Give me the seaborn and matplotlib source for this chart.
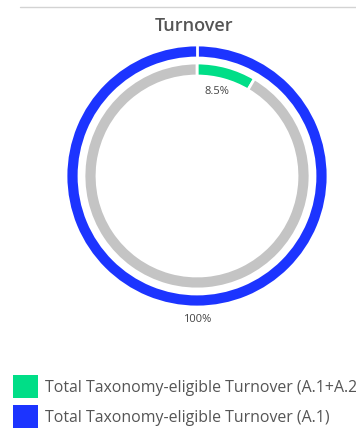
import matplotlib
matplotlib.use("Agg")
import matplotlib.pyplot as plt
from matplotlib.patches import Rectangle
from matplotlib.lines import Line2D
import seaborn as sns

# Data
title = "Turnover"
eligible_share = 8.5          # Taxonomy-eligible turnover (A.1+A.2), %
aligned_share = 100.0         # Taxonomy-eligible turnover (A.1), %
legend_labels = [
    "Total Taxonomy-eligible Turnover (A.1+A.2)",
    "Total Taxonomy-eligible Turnover (A.1)",
]

GREEN = "#00DE87"
BLUE = "#1C34FF"
GREY = "#C4C4C4"
TEXT = "#555555"

sns.set_theme(style="white")
plt.rcParams["font.family"] = ["Open Sans", "DejaVu Sans"]

W, H = 356, 431
fig = plt.figure(figsize=(W / 100, H / 100), dpi=100)


def fx(px):
    return px / W


def fy(py):
    return 1 - py / H


# thin rule across the top
fig.add_artist(Line2D([fx(20), 1.0], [fy(8), fy(8)], color="#D3D3D3", lw=1.0))
fig.text(fx(194), fy(26), title, ha="center", va="center",
         fontsize=13, color=TEXT, fontweight="semibold")

ax = fig.add_axes([fx(66), fy(308), 262 / W, 262 / H])
ax.set_aspect("equal")

r_out = 1.0
w_out = 13 / 131
r_in = 113 / 131
w_in = 13 / 131

# outer ring: A.1 share
outer_vals = [aligned_share] if aligned_share >= 100 else [aligned_share, 100 - aligned_share]
ax.pie(outer_vals, radius=r_out, startangle=90, counterclock=False,
       colors=[BLUE, GREY],
       wedgeprops=dict(width=w_out, edgecolor="white", linewidth=2))
# seam where the ring starts
ax.plot([0, 0], [r_out - w_out - 0.01, r_out + 0.01], color="white", lw=2,
        solid_capstyle="butt", zorder=5)
# inner ring: A.1+A.2 share against the remainder
ax.pie([eligible_share, 100 - eligible_share],
       radius=r_in, startangle=90, counterclock=False,
       colors=[GREEN, GREY],
       wedgeprops=dict(width=w_in, edgecolor="white", linewidth=2))

ax.set_xlim(-1, 1)
ax.set_ylim(-1, 1)
ax.axis("off")

# value labels
ax.text(20 / 131, 85 / 131, f"{eligible_share:g}%", ha="center", va="center",
        fontsize=8, color="#444444")
ax.text(0, -143 / 131, f"{aligned_share:g}%", ha="center", va="center",
        fontsize=8, color="#444444")

# legend
legend_colors = [GREEN, BLUE]
for i, (lab, col) in enumerate(zip(legend_labels, legend_colors)):
    top = 376 + 30 * i
    fig.add_artist(Rectangle((fx(13), fy(top + 23)), 25 / W, 23 / H,
                             transform=fig.transFigure, facecolor=col,
                             edgecolor="none"))
    fig.text(fx(45), fy(top + 12), lab, ha="left", va="center",
             fontsize=11.4, color=TEXT)

fig.savefig("out.png", dpi=100)
